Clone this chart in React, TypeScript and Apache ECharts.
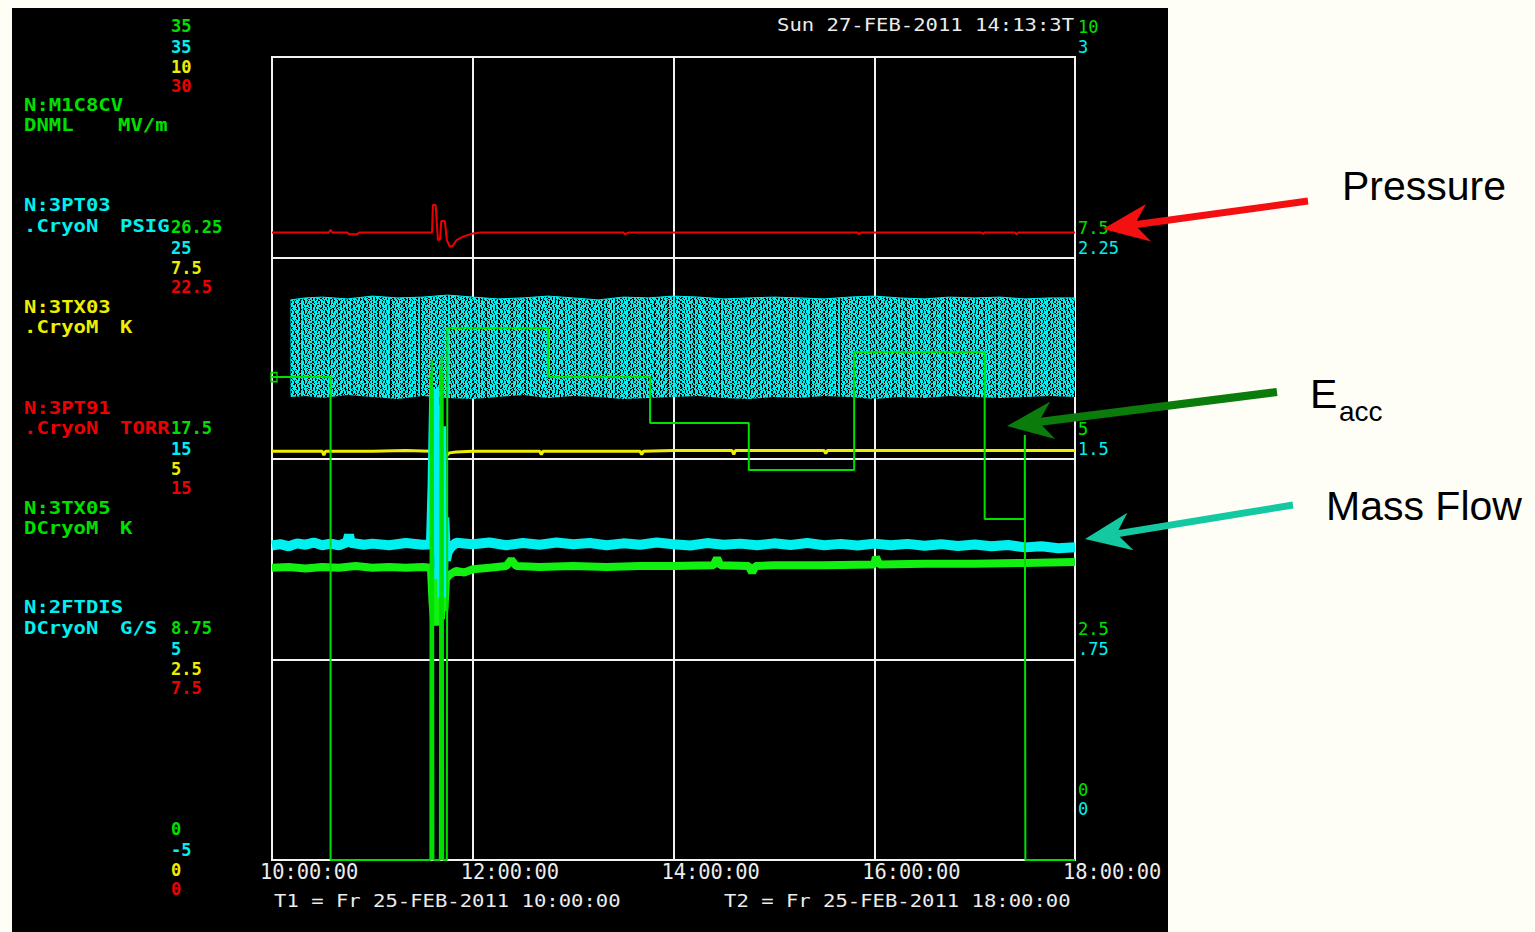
import React, { useEffect, useRef } from 'react';
import * as echarts from 'echarts';

// ---------- fonts & colours ----------
const MONO = '"DejaVu Sans Mono", "Liberation Mono", monospace';
const SANS = '"Liberation Sans", Arial, sans-serif';
const PAGE_BG = '#fefef7';
const GREEN = '#00e000';
const GREEN_TRACE = '#12f012';
const CYAN = '#00f0f0';
const YELLOW = '#eeee00';
const RED = '#ee0000';
const GRID_WHITE = '#f2f2f2';
const TEXT_WHITE = '#ececec';

// ---------- time axis: 25-FEB-2011 10:00:00 .. 18:00:00, grid every 2 h ----------
const DAY = [2011, 1, 25];
const T_START_HOUR = 10;
const T_END_HOUR = 18;
const T_STEP_HOURS = 2;

// ---------- channel scales: [min, max, step] ----------
const eaccScale = [0, 35, 8.75]; // N:M1C8CV  MV/m   (left, green)
const psigTicks = [-5, 5, 15, 25, 35]; // N:3PT03 PSIG (left, cyan)
const tx03Scale = [0, 10, 2.5]; // N:3TX03  K   (left, yellow)
const torrScale = [0, 30, 7.5]; // N:3PT91  TORR (left, red)
const tx05Scale = [0, 10, 2.5]; // N:3TX05  K   (right, green)
const flowScale = [0, 3, 0.75]; // N:2FTDIS G/S (right, cyan)

// ---------- traces: [time, value] ----------
// N:M1C8CV accelerating field (Eacc), MV/m
const eaccTrace: [string, number][] = [
  ['10:00', 21.05], ['10:35', 21.05], ['10:35', 0], ['11:34:40', 0],
  ['11:34:50', 21.2], ['11:35:10', 0], ['11:35:30', 21.8], ['11:35:50', 0], ['11:36:10', 20.6], ['11:36:30', 0],
  ['11:40:20', 0], ['11:40:40', 21.5], ['11:41:00', 0], ['11:41:20', 22.0], ['11:41:40', 0], ['11:42:00', 21.2], ['11:42:20', 0],
  ['11:44:30', 0], ['11:44:50', 23.19], ['12:45', 23.19], ['12:45', 21.05], ['13:46', 21.05], ['13:46', 19.05],
  ['14:45', 19.05], ['14:45', 17.0], ['15:48', 17.0], ['15:48', 22.14], ['17:06', 22.14], ['17:06', 14.86],
  ['17:30', 14.86], ['17:30', 18.52], ['17:30:20', 0], ['18:00', 0],
];

// N:3PT91 pressure, TORR
const torrTrace: [string, number][] = [
  ['10:00', 23.44], ['10:34', 23.44], ['10:35', 23.55], ['10:36', 23.44], ['10:45', 23.44], ['10:46', 23.38],
  ['10:51', 23.38], ['10:52', 23.44], ['11:35:40', 23.44], ['11:36:10', 24.47], ['11:37:50', 24.47],
  ['11:39:10', 23.16], ['11:40:30', 23.2], ['11:41:10', 23.87], ['11:43:20', 23.87], ['11:44:30', 23.16],
  ['11:46:20', 22.91], ['11:48:00', 22.95], ['11:50:20', 23.16], ['11:54:10', 23.29], ['12:00', 23.41],
  ['12:05', 23.44], ['13:30', 23.44], ['13:31', 23.38], ['13:33', 23.44], ['15:50', 23.44], ['15:51', 23.38],
  ['15:52', 23.44], ['17:04', 23.44], ['17:05', 23.39], ['17:06', 23.44], ['17:24', 23.44], ['17:25', 23.38],
  ['17:26', 23.44], ['18:00', 23.44],
];

// N:3PT03 pressure, PSIG – noisy signal, given as its upper / lower envelope
const psigTimes = [
  '10:11', '10:20', '10:30', '10:45', '11:00', '11:15', '11:30', '11:45', '12:00', '12:15', '12:30',
  '12:45', '13:00', '13:15', '13:30', '13:45', '14:00', '14:15', '14:30', '14:45', '15:00', '15:15',
  '15:30', '15:45', '16:00', '16:15', '16:30', '16:45', '17:00', '17:15', '17:30', '17:45', '18:00',
];
const psigHigh = [
  22.9, 23.0, 23.04, 22.95, 23.09, 23.0, 23.04, 23.14, 23.04, 22.95, 23.0,
  23.09, 23.0, 22.9, 23.04, 23.0, 23.09, 23.04, 22.95, 23.0, 23.04, 23.0,
  22.95, 23.04, 23.09, 23.0, 22.95, 23.04, 23.0, 23.04, 22.95, 23.0, 23.0,
];
const psigLow = [
  18.06, 18.11, 18.01, 18.16, 18.06, 17.96, 18.11, 18.01, 17.96, 18.06, 18.16,
  18.01, 18.11, 18.06, 17.96, 18.01, 18.06, 18.11, 18.01, 17.96, 18.06, 18.01,
  18.11, 18.06, 17.96, 18.06, 18.01, 18.11, 18.06, 18.01, 18.06, 18.11, 18.06,
];

// N:3TX03 temperature, K
const tx03Trace: [string, number][] = [
  ['10:00', 5.09], ['10:30', 5.09], ['10:31', 5.04], ['10:32', 5.09], ['11:00', 5.09], ['11:20', 5.1],
  ['11:35', 5.09], ['11:36:30', 5.15], ['11:37', 4.95], ['11:38', 5.25], ['11:39', 4.9], ['11:40', 5.48],
  ['11:40:40', 4.69], ['11:41:20', 5.3], ['11:42', 4.95], ['11:43', 5.05], ['11:44', 5.03], ['11:46', 5.07],
  ['11:50', 5.08], ['12:00', 5.09], ['12:40', 5.09], ['12:41', 5.05], ['12:42', 5.09], ['13:40', 5.09],
  ['13:41', 5.05], ['13:42', 5.09], ['14:00', 5.1], ['14:35', 5.1], ['14:36', 5.05], ['14:37', 5.1],
  ['15:30', 5.1], ['15:31', 5.06], ['15:32', 5.1], ['16:00', 5.1], ['17:00', 5.1], ['18:00', 5.1],
];

// N:3TX05 temperature, K
const tx05Trace: [string, number][] = [
  ['10:00', 3.64], ['10:10', 3.65], ['10:20', 3.63], ['10:30', 3.65], ['10:40', 3.64], ['10:50', 3.66],
  ['11:00', 3.64], ['11:10', 3.65], ['11:20', 3.64], ['11:30', 3.65], ['11:35', 3.64], ['11:36', 3.2],
  ['11:37', 2.95], ['11:38', 3.5], ['11:39', 2.92], ['11:40', 3.3], ['11:41', 3.0], ['11:42', 3.45],
  ['11:43', 3.1], ['11:44', 3.5], ['11:46', 3.55], ['11:50', 3.6], ['11:55', 3.58], ['12:00', 3.62],
  ['12:10', 3.64], ['12:20', 3.66], ['12:23', 3.74], ['12:26', 3.66], ['12:40', 3.65], ['13:00', 3.66],
  ['13:20', 3.65], ['13:40', 3.66], ['14:00', 3.66], ['14:24', 3.67], ['14:26', 3.76], ['14:28', 3.67],
  ['14:45', 3.66], ['14:47', 3.58], ['14:49', 3.66], ['15:00', 3.67], ['15:30', 3.67], ['16:00', 3.68],
  ['16:01', 3.77], ['16:03', 3.68], ['16:30', 3.69], ['17:00', 3.69], ['17:30', 3.7], ['18:00', 3.71],
];

// N:2FTDIS mass flow, G/S
const flowTrace: [string, number][] = [
  ['10:00', 1.175], ['10:05', 1.18], ['10:10', 1.172], ['10:15', 1.183], ['10:20', 1.178], ['10:25', 1.186],
  ['10:30', 1.176], ['10:35', 1.182], ['10:40', 1.175], ['10:45', 1.188], ['10:46', 1.215], ['10:47', 1.185],
  ['10:55', 1.178], ['11:00', 1.182], ['11:10', 1.176], ['11:20', 1.184], ['11:30', 1.178], ['11:35', 1.18],
  ['11:36', 1.4], ['11:37', 1.76], ['11:38', 1.3], ['11:39', 1.7], ['11:40', 1.05], ['11:41', 1.62],
  ['11:42', 0.98], ['11:43', 1.28], ['11:44', 1.12], ['11:45', 1.15], ['11:47', 1.17], ['11:50', 1.185],
  ['12:00', 1.18], ['12:10', 1.186], ['12:20', 1.176], ['12:30', 1.184], ['12:40', 1.178], ['12:50', 1.186],
  ['13:00', 1.18], ['13:10', 1.184], ['13:20', 1.176], ['13:30', 1.183], ['13:40', 1.178], ['13:50', 1.186],
  ['14:00', 1.18], ['14:10', 1.175], ['14:20', 1.184], ['14:30', 1.178], ['14:40', 1.182], ['14:50', 1.176],
  ['15:00', 1.183], ['15:10', 1.177], ['15:20', 1.184], ['15:30', 1.176], ['15:40', 1.181], ['15:50', 1.175],
  ['16:00', 1.182], ['16:10', 1.176], ['16:20', 1.181], ['16:30', 1.174], ['16:40', 1.18], ['16:50', 1.173],
  ['17:00', 1.179], ['17:10', 1.172], ['17:20', 1.177], ['17:30', 1.168], ['17:40', 1.172], ['17:50', 1.165],
  ['18:00', 1.168],
];

// ---------- helpers ----------
const atHMS = (h: number, m = 0, s = 0) => new Date(DAY[0], DAY[1], DAY[2], h, m, s).getTime();
const at = (t: string) => {
  const [h, m = '0', s = '0'] = t.split(':');
  return atHMS(Number(h), Number(m), Number(s));
};
const toPts = (tr: [string, number][]) => tr.map(([t, v]) => [at(t), v]);
const fmtNum = (v: number) => String(v).replace(/^0\./, '.');
const two = (n: number) => (n < 10 ? '0' : '') + n;

// tick label placed dy px above (<0) or below (>0) its grid line
const place = (dy: number) => ({
  verticalAlign: dy < 0 ? 'bottom' : 'top',
  lineHeight: Math.abs(dy) * 2,
});

const scaleLabelFont = { fontFamily: MONO, fontSize: 17 };
const WIDE = 1.21; // horizontal stretch of the terminal-style lettering

function leftAxis(color: string, dy: number, extra: any) {
  return {
    type: 'value',
    position: 'left',
    axisLine: { show: false },
    axisTick: { show: false },
    splitLine: { show: false },
    ...extra,
    axisLabel: {
      ...scaleLabelFont,
      fontWeight: 'bold',
      color,
      align: 'left',
      margin: 101,
      ...place(dy),
      formatter: (v: number) => fmtNum(v),
      ...(extra.axisLabel || {}),
    },
  };
}

const scaleOf = (s: number[]) => ({ min: s[0], max: s[1], interval: s[2] });

function rightAxis(scale: number[], color: string, dy: number, zeroOnly: boolean) {
  return {
    type: 'value',
    position: 'right',
    min: scale[0],
    max: scale[1],
    interval: zeroOnly ? scale[1] : scale[2],
    axisLine: { show: false },
    axisTick: { show: false },
    splitLine: { show: false },
    axisLabel: {
      ...scaleLabelFont,
      color,
      align: 'left',
      margin: 3,
      ...place(dy),
      showMinLabel: zeroOnly,
      formatter: (v: number) => (zeroOnly ? (v === 0 ? '0' : '') : fmtNum(v)),
    },
  };
}

function monoText(text: string, x: number, y: number, color: string, bold = true) {
  return {
    type: 'text',
    x,
    y,
    scaleX: WIDE,
    scaleY: 1,
    z: 50,
    style: {
      text,
      fill: color,
      font: `${bold ? 'bold ' : ''}17px ${MONO}`,
      textAlign: 'left',
      align: 'left',
      textVerticalAlign: 'middle',
      verticalAlign: 'middle',
    },
  };
}

function sansText(text: string, x: number, y: number, size: number) {
  return {
    type: 'text',
    x,
    y,
    z: 50,
    style: {
      text,
      fill: '#000000',
      font: `${size}px ${SANS}`,
      textAlign: 'left',
      align: 'left',
      textVerticalAlign: 'middle',
      verticalAlign: 'middle',
    },
  };
}

function arrow(x1: number, y1: number, x2: number, y2: number, color: string, width: number) {
  const dx = x2 - x1;
  const dy = y2 - y1;
  const len = Math.hypot(dx, dy);
  const ux = dx / len;
  const uy = dy / len;
  const nx = -uy;
  const ny = ux;
  const headLen = 46;
  const halfW = 19;
  const notch = 32;
  const bx = x2 - ux * headLen;
  const by = y2 - uy * headLen;
  const kx = x2 - ux * notch;
  const ky = y2 - uy * notch;
  return [
    {
      type: 'line',
      z: 100,
      shape: { x1, y1, x2: kx, y2: ky },
      style: { stroke: color, lineWidth: width },
    },
    {
      type: 'polygon',
      z: 101,
      shape: {
        points: [
          [x2, y2],
          [bx + nx * halfW, by + ny * halfW],
          [kx, ky],
          [bx - nx * halfW, by - ny * halfW],
        ],
      },
      style: { fill: color },
    },
  ];
}

// speckle texture of the noisy PSIG trace: short black dashes on cyan,
// rows of unequal period so the pattern does not line up in columns
const BAND_DECAL = {
  symbol: 'rect',
  symbolSize: 1,
  color: '#000000',
  dashArrayX: [
    [1, 2, 2, 3, 1, 1, 1, 4],
    [2, 3, 1, 2, 1, 4],
    [1, 1, 1, 3, 2, 2, 1, 5],
    [1, 4, 2, 1, 1, 3],
    [2, 2, 1, 5, 1, 2],
    [1, 3, 1, 1, 2, 4, 1, 2],
    [1, 2, 1, 4, 2, 2],
    [2, 1, 1, 3, 1, 4, 1, 2],
  ],
  dashArrayY: [1, 0, 2, 0, 1, 0, 1, 0, 2, 0, 1, 0, 1, 0, 1, 0],
  rotation: 0,
  maxTileWidth: 420,
  maxTileHeight: 60,
};

function buildOption(): any {
  const channelLabels = [
    monoText('N:M1C8CV', 24, 105, GREEN),
    monoText('DNML', 24, 125, GREEN),
    monoText('MV/m', 118, 125, GREEN),
    monoText('N:3PT03', 24, 205, CYAN),
    monoText('.CryoN', 24, 226, CYAN),
    monoText('PSIG', 120, 226, CYAN),
    monoText('N:3TX03', 24, 307, YELLOW),
    monoText('.CryoM', 24, 327, YELLOW),
    monoText('K', 120, 327, YELLOW),
    monoText('N:3PT91', 24, 408, RED),
    monoText('.CryoN', 24, 428, RED),
    monoText('TORR', 120, 428, RED),
    monoText('N:3TX05', 24, 508, GREEN),
    monoText('DCryoM', 24, 528, GREEN),
    monoText('K', 120, 528, GREEN),
    monoText('N:2FTDIS', 24, 607, CYAN),
    monoText('DCryoN', 24, 628, CYAN),
    monoText('G/S', 120, 628, CYAN),
    monoText('Sun 27-FEB-2011 14:13:3T', 777, 25, TEXT_WHITE, false),
    monoText('T1 = Fr 25-FEB-2011 10:00:00', 274, 901, TEXT_WHITE, false),
    monoText('T2 = Fr 25-FEB-2011 18:00:00', 724, 901, TEXT_WHITE, false),
  ];

  const notes = [
    sansText('Pressure', 1342, 186, 41),
    sansText('E', 1310, 394, 41),
    sansText('acc', 1339, 411, 28),
    sansText('Mass Flow', 1326, 506, 41),
    ...arrow(1308, 201, 1103, 229, '#f41010', 7),
    ...arrow(1277, 392, 1007, 426, '#0b7b0b', 8),
    ...arrow(1293, 505, 1085, 539, '#14c9a2', 7),
  ];

  const bandBase = psigTimes.map((t, i) => [at(t), psigLow[i]]);
  const bandSpan = psigTimes.map((t, i) => [at(t), +(psigHigh[i] - psigLow[i]).toFixed(3)]);

  const eaccData = toPts(eaccTrace).map((p, i) =>
    i === 0
      ? {
          value: p,
          symbol: 'rect',
          symbolSize: [6, 9],
          symbolOffset: [2, 0],
          itemStyle: { color: 'rgba(0,0,0,0)', borderColor: GREEN, borderWidth: 1.5 },
        }
      : p,
  );

  const lineBase = { type: 'line', symbol: 'none', xAxisIndex: 0, silent: true };

  return {
    animation: false,
    backgroundColor: 'transparent',
    textStyle: { fontFamily: MONO },
    grid: {
      left: 272,
      top: 57,
      width: 803,
      height: 803,
      show: true,
      borderColor: GRID_WHITE,
      borderWidth: 2,
      backgroundColor: 'transparent',
      outerBoundsMode: 'none',
      containLabel: false,
    },
    xAxis: [
      // time axis carrying the traces
      {
        type: 'time',
        show: false,
        min: atHMS(T_START_HOUR),
        max: atHMS(T_END_HOUR),
      },
      // clock-hour axis drawing the labels and the vertical grid lines
      {
        type: 'value',
        position: 'bottom',
        min: T_START_HOUR,
        max: T_END_HOUR,
        interval: T_STEP_HOURS,
        axisLine: { show: false },
        axisTick: { show: false },
        splitLine: { show: true, lineStyle: { color: GRID_WHITE, width: 2 } },
        axisLabel: {
          fontFamily: MONO,
          fontSize: 20.4,
          color: TEXT_WHITE,
          align: 'left',
          verticalAlign: 'top',
          margin: 2,
          padding: [0, 0, 0, -12],
          formatter: (v: number) => `${two(v)}:00:00`,
        },
      },
    ],
    yAxis: [
      leftAxis(GREEN, -31, {
        ...scaleOf(eaccScale),
        splitLine: { show: true, lineStyle: { color: GRID_WHITE, width: 2 } },
      }),
      leftAxis(CYAN, -10, {
        min: psigTicks[0],
        max: psigTicks[psigTicks.length - 1],
        axisLabel: { customValues: psigTicks },
      }),
      leftAxis(YELLOW, 10, scaleOf(tx03Scale)),
      leftAxis(RED, 29, scaleOf(torrScale)),
      rightAxis(tx05Scale, GREEN, -30, false),
      rightAxis(flowScale, CYAN, -10, false),
      rightAxis(tx05Scale, GREEN, -70, true),
      rightAxis(flowScale, CYAN, -51, true),
    ],
    series: [
      {
        ...lineBase,
        name: '3PT03 low',
        yAxisIndex: 1,
        stack: 'psig',
        data: bandBase,
        lineStyle: { opacity: 0, width: 0 },
      },
      {
        ...lineBase,
        name: '3PT03',
        yAxisIndex: 1,
        stack: 'psig',
        data: bandSpan,
        lineStyle: { color: CYAN, width: 1, decal: BAND_DECAL },
        itemStyle: { color: CYAN, decal: BAND_DECAL },
        areaStyle: { color: CYAN, opacity: 1 },
      },
      {
        ...lineBase,
        name: '3PT91',
        yAxisIndex: 3,
        data: toPts(torrTrace),
        lineStyle: { color: RED, width: 2 },
      },
      {
        ...lineBase,
        name: '3TX03',
        yAxisIndex: 2,
        data: toPts(tx03Trace),
        lineStyle: { color: YELLOW, width: 3 },
      },
      {
        ...lineBase,
        name: '3TX05',
        yAxisIndex: 4,
        data: toPts(tx05Trace),
        lineStyle: { color: GREEN_TRACE, width: 8 },
      },
      {
        ...lineBase,
        name: '2FTDIS',
        yAxisIndex: 5,
        data: toPts(flowTrace),
        lineStyle: { color: CYAN, width: 10 },
      },
      {
        ...lineBase,
        name: 'M1C8CV',
        yAxisIndex: 0,
        showSymbol: true,
        data: eaccData,
        lineStyle: { color: GREEN, width: 2 },
      },
    ],
    graphic: { elements: [...channelLabels, ...notes] },
  };
}

export default function App() {
  const ref = useRef<HTMLDivElement>(null);

  useEffect(() => {
    if (!ref.current) return;
    const chart = echarts.init(ref.current, null, { renderer: 'svg' });
    chart.setOption(buildOption());
    return () => chart.dispose();
  }, []);

  return (
    <div
      style={{
        position: 'absolute',
        left: 0,
        top: 0,
        width: 1535,
        height: 932,
        background: PAGE_BG,
        overflow: 'hidden',
      }}
    >
      <div
        style={{ position: 'absolute', left: 12, top: 8, width: 1156, height: 924, background: '#000' }}
      />
      <div ref={ref} style={{ position: 'absolute', left: 0, top: 0, width: 1535, height: 932 }} />
    </div>
  );
}
